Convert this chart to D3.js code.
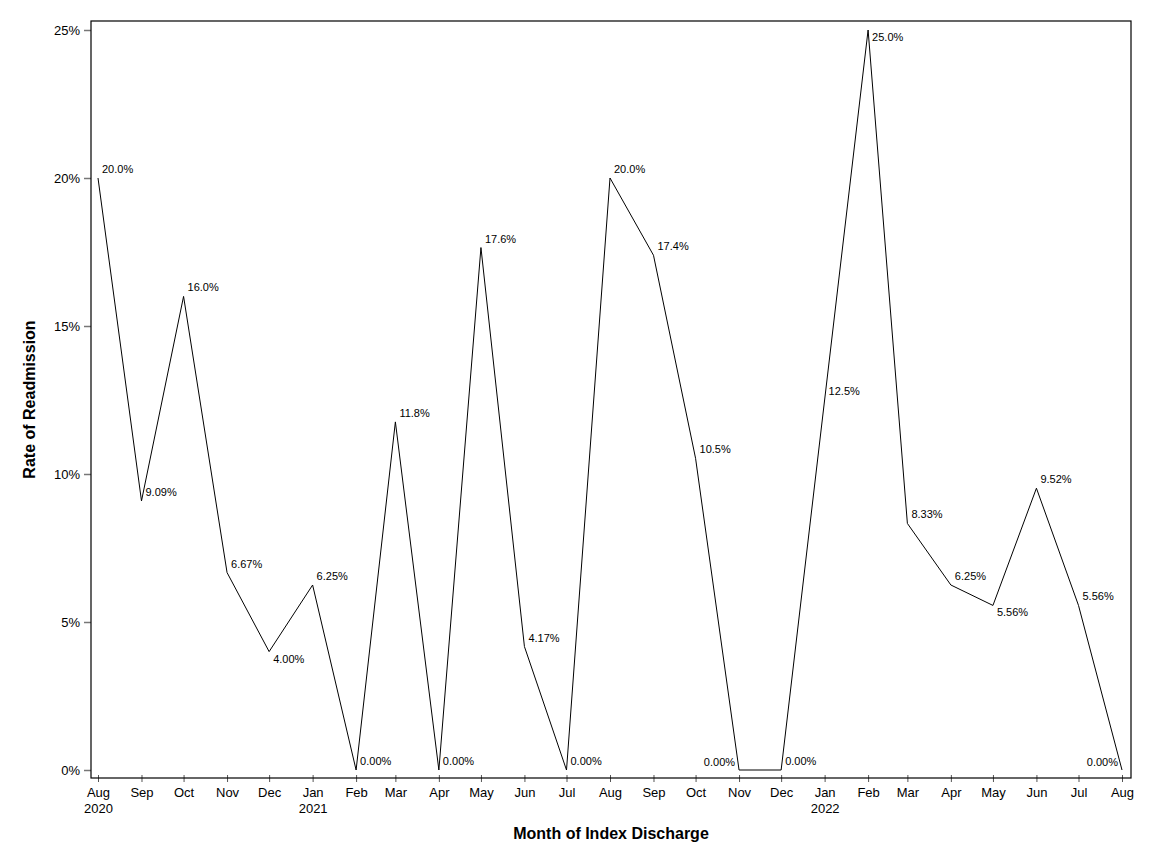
<!DOCTYPE html>
<html>
<head>
<meta charset="utf-8">
<script src="https://cdn.jsdelivr.net/npm/d3@7"></script>
<style>
  body { margin: 0; background: #fff; }
  text { font-family: "Liberation Sans", Arial, sans-serif; }
</style>
</head>
<body>
<div id="chart"></div>
<script>
// monthly readmission rate, Aug 2020 - Aug 2022
const months = [
  "2020-08", "2020-09", "2020-10", "2020-11", "2020-12",
  "2021-01", "2021-02", "2021-03", "2021-04", "2021-05", "2021-06",
  "2021-07", "2021-08", "2021-09", "2021-10", "2021-11", "2021-12",
  "2022-01", "2022-02", "2022-03", "2022-04", "2022-05", "2022-06",
  "2022-07", "2022-08"
];
const rates = [
  20.0, 9.09, 16.0, 6.67, 4.0,
  6.25, 0, 11.76, 0, 17.65, 4.17,
  0, 20.0, 17.39, 10.53, 0, 0,
  12.5, 25.0, 8.33, 6.25, 5.56, 9.52,
  5.56, 0
];
const rateLabels = [
  "20.0%", "9.09%", "16.0%", "6.67%", "4.00%",
  "6.25%", "0.00%", "11.8%", "0.00%", "17.6%", "4.17%",
  "0.00%", "20.0%", "17.4%", "10.5%", "0.00%", "0.00%",
  "12.5%", "25.0%", "8.33%", "6.25%", "5.56%", "9.52%",
  "5.56%", "0.00%"
];
// where each label sits relative to its point
const labelSide = [
  "above", "above", "above", "above", "below",
  "above", "above", "above", "above", "above", "above",
  "above", "above", "above", "above", "left", "above",
  "above", "below", "above", "above", "below", "above",
  "above", "left"
];
const yTicks = [0, 5, 10, 15, 20, 25];

const width = 1152, height = 864;
const frame = { left: 91, right: 1131, top: 21, bottom: 778 };

const parseMonth = d3.timeParse("%Y-%m");
const data = months.map((m, i) => ({
  date: parseMonth(m),
  value: rates[i],
  label: rateLabels[i],
  side: labelSide[i]
}));

const x = d3.scaleTime()
  .domain(d3.extent(data, (d) => d.date))
  .range([98, 1122]);
const y = d3.scaleLinear()
  .domain([0, 25])
  .range([770, 30]);

const svg = d3.select("#chart")
  .append("svg")
  .attr("width", width)
  .attr("height", height);

// x axis
const xAxis = svg.append("g")
  .attr("transform", `translate(0,${frame.bottom})`)
  .call(d3.axisBottom(x).ticks(d3.timeMonth.every(1)).tickSize(4).tickFormat(""));
xAxis.select(".domain").remove();
xAxis.selectAll(".tick line")
  .attr("y1", -3)
  .attr("stroke", "#555");

const xLabels = xAxis.selectAll(".tick").append("g");
xLabels.append("text")
  .attr("y", 19)
  .attr("text-anchor", "middle")
  .attr("font-size", 13)
  .attr("fill", "#000")
  .text((d) => d3.timeFormat("%b")(d));
xLabels.append("text")
  .attr("y", 35)
  .attr("text-anchor", "middle")
  .attr("font-size", 13)
  .attr("fill", "#000")
  .text((d, i) => (i === 0 || d.getMonth() === 0 ? d.getFullYear() : ""));

// y axis
const yAxis = svg.append("g")
  .attr("transform", `translate(${frame.left},0)`)
  .call(d3.axisLeft(y).tickValues(yTicks).tickSize(7).tickPadding(4)
    .tickFormat((d) => d + "%"));
yAxis.select(".domain").remove();
yAxis.selectAll(".tick line").attr("stroke", "#777").attr("stroke-width", 1.5);
yAxis.selectAll(".tick text")
  .attr("font-size", 13)
  .attr("fill", "#000")
  .attr("font-family", "Liberation Sans, Arial, sans-serif");

// frame
svg.append("rect")
  .attr("x", frame.left)
  .attr("y", frame.top)
  .attr("width", frame.right - frame.left)
  .attr("height", frame.bottom - frame.top)
  .attr("fill", "none")
  .attr("stroke", "#000")
  .attr("stroke-width", 1.2);

// series line
const line = d3.line()
  .x((d) => x(d.date))
  .y((d) => y(d.value));

svg.append("path")
  .datum(data)
  .attr("d", line)
  .attr("fill", "none")
  .attr("stroke", "#000")
  .attr("stroke-width", 1);

// point labels
svg.append("g")
  .selectAll("text")
  .data(data)
  .enter()
  .append("text")
  .attr("font-size", 11)
  .attr("fill", "#000")
  .attr("text-anchor", (d) => (d.side === "left" ? "end" : "start"))
  .attr("x", (d) => x(d.date) + (d.side === "left" ? -4 : 4))
  .attr("y", (d) => y(d.value) + (d.side === "below" ? 11 : d.side === "left" ? -4 : -5))
  .text((d) => d.label);

// axis titles
svg.append("text")
  .attr("x", (frame.left + frame.right) / 2)
  .attr("y", 839)
  .attr("text-anchor", "middle")
  .attr("font-size", 16)
  .attr("font-weight", "bold")
  .text("Month of Index Discharge");

svg.append("text")
  .attr("transform", `translate(35,${(frame.top + frame.bottom) / 2}) rotate(-90)`)
  .attr("text-anchor", "middle")
  .attr("font-size", 16)
  .attr("font-weight", "bold")
  .text("Rate of Readmission");
</script>
</body>
</html>
